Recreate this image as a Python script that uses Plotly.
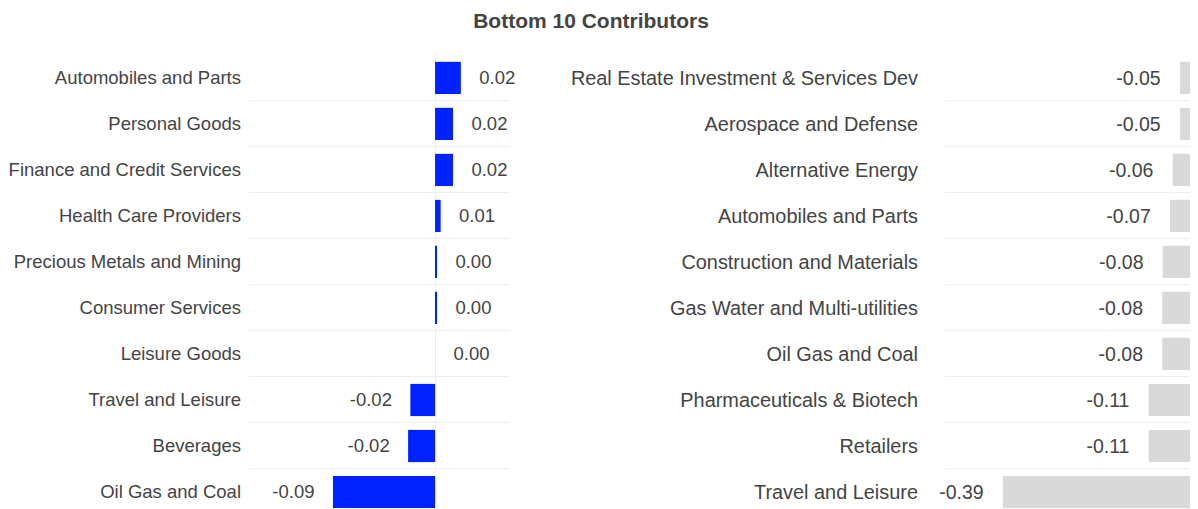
import plotly.graph_objects as go

# secteurs contributeurs (gauche) et 10 derniers (droite), de haut en bas
left_sectors = ["Automobiles and Parts", "Personal Goods", "Finance and Credit Services",
                "Health Care Providers", "Precious Metals and Mining", "Consumer Services",
                "Leisure Goods", "Travel and Leisure", "Beverages", "Oil Gas and Coal"]
left_values = [0.023, 0.016, 0.016, 0.005, 0.001, 0.001, 0.0, -0.022, -0.024, -0.091]

right_sectors = ["Real Estate Investment & Services Dev", "Aerospace and Defense",
                 "Alternative Energy", "Automobiles and Parts", "Construction and Materials",
                 "Gas Water and Multi-utilities", "Oil Gas and Coal",
                 "Pharmaceuticals & Biotech", "Retailers", "Travel and Leisure"]
right_values = [-0.05, -0.05, -0.064, -0.069, -0.083, -0.084, -0.084, -0.11, -0.11, -0.39]

title_text = "Bottom 10 Contributors"

TXT = "#444444"
GRID = "#eeeeee"
NB = "\u00a0" * 3
W, H = 1198, 509


def labels(vals):
    # petit écart entre la barre et l'étiquette
    return [NB + f"{v:.2f}" if v >= 0 else f"{v:.2f}" + NB for v in vals]


fig = go.Figure()

fig.add_trace(go.Bar(
    x=left_values, y=left_sectors, orientation="h",
    marker=dict(color="#0022ff", line=dict(width=0)),
    text=labels(left_values), textposition="outside",
    textfont=dict(size=18.5, color=TXT), constraintext="none", cliponaxis=False,
    xaxis="x", yaxis="y", showlegend=False, hoverinfo="x+y",
))

fig.add_trace(go.Bar(
    x=right_values, y=right_sectors, orientation="h",
    marker=dict(color="#d9d9d9", line=dict(width=0)),
    text=labels(right_values), textposition="outside",
    textfont=dict(size=19.5, color=TXT), constraintext="none", cliponaxis=False,
    xaxis="x2", yaxis="y2", showlegend=False, hoverinfo="x+y",
))

yrange = [9.5, -0.52]

fig.update_layout(
    width=W, height=H,
    margin=dict(l=0, r=0, t=46, b=2),
    template="none",
    paper_bgcolor="white", plot_bgcolor="white",
    font=dict(family="Liberation Sans, Arial, sans-serif", size=18, color=TXT),
    bargap=0.3,
    title=dict(text="<b>" + title_text + "</b>", x=583 / W, xanchor="center",
               y=1 - 13 / H, yanchor="middle", xref="container", yref="container",
               font=dict(size=21, color=TXT)),
    xaxis=dict(domain=[241 / W, 502 / W], range=[-0.1658, 0.0668],
               showticklabels=False, showgrid=False, zeroline=True,
               zerolinecolor=GRID, zerolinewidth=1, automargin=False, fixedrange=True),
    yaxis=dict(anchor="x", type="category", range=yrange, tickson="boundaries",
               showgrid=True, gridcolor=GRID, gridwidth=1, ticks="", zeroline=False,
               showline=False, automargin=False, ticklabelstandoff=7,
               tickfont=dict(size=18.5, color=TXT)),
    xaxis2=dict(domain=[937 / W, 1.0], range=[-0.501, 0], anchor="y2",
                showticklabels=False, showgrid=False, zeroline=False,
                automargin=False, fixedrange=True),
    yaxis2=dict(anchor="x2", type="category", range=yrange, tickson="boundaries",
                showgrid=True, gridcolor=GRID, gridwidth=1, ticks="", zeroline=False,
                showline=False, automargin=False, ticklabelstandoff=26,
                tickfont=dict(size=19.9, color=TXT)),
)

fig.write_html("out.html")
